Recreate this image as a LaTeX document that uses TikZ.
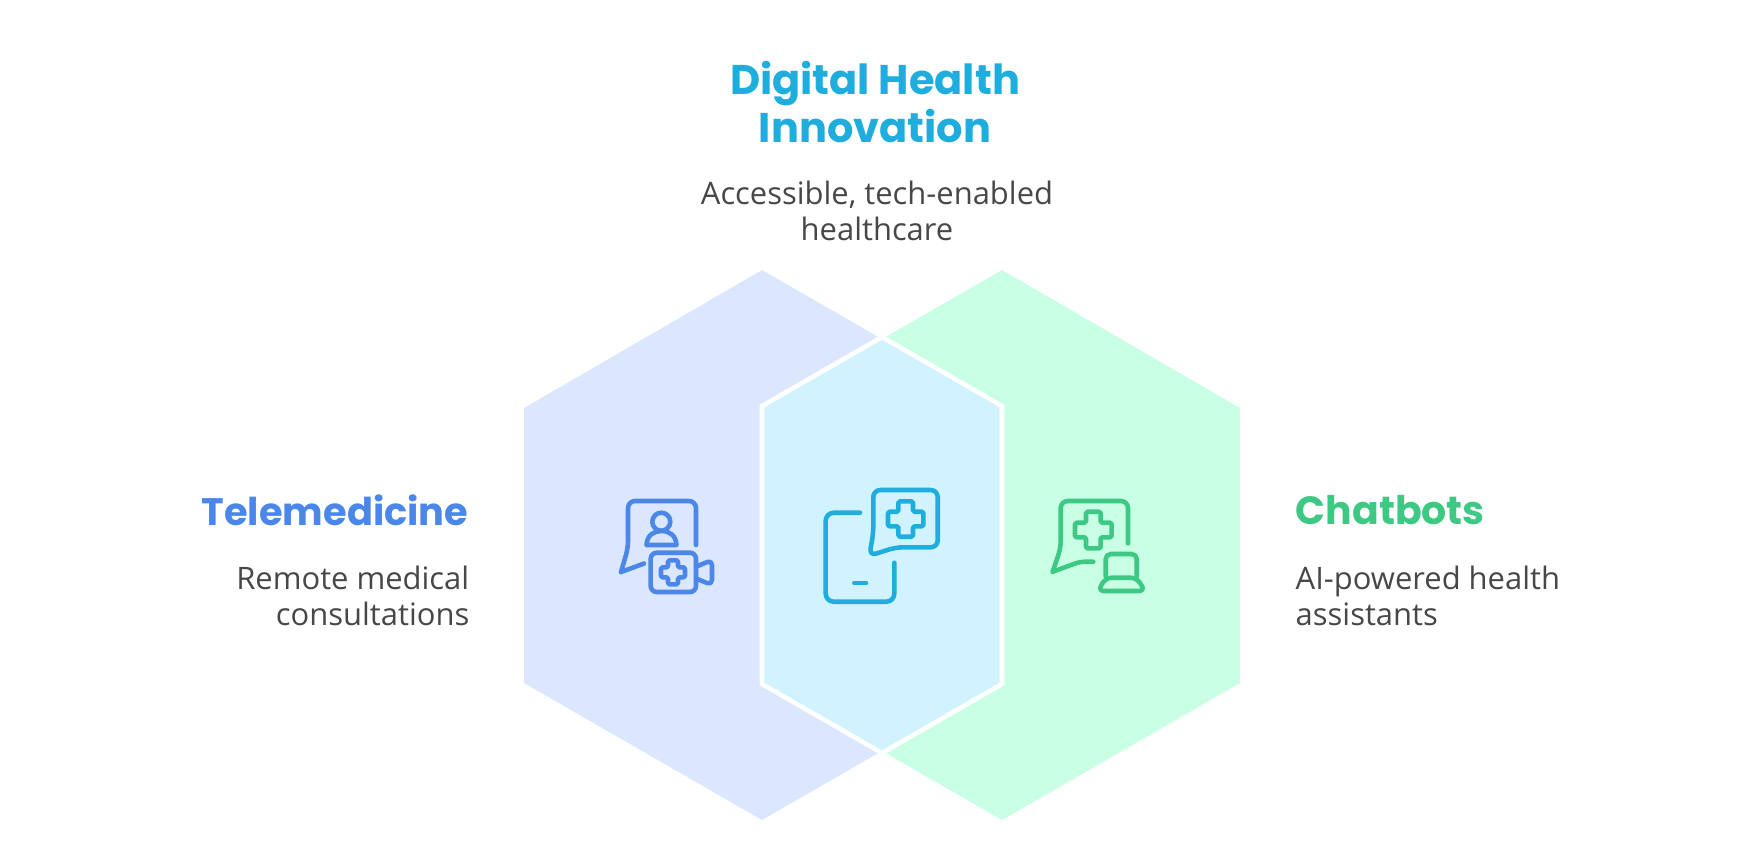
\documentclass[tikz,border=0pt]{standalone}
\usepackage{fontspec}
\setmainfont{Open Sans}
\newfontfamily\headfont{Poppins}
\definecolor{bluefill}{HTML}{DBE7FF}
\definecolor{greenfill}{HTML}{C8FFE5}
\definecolor{cyanfill}{HTML}{D1F3FF}
\definecolor{blueink}{HTML}{4B87E8}
\definecolor{cyanink}{HTML}{1FADDE}
\definecolor{greenink}{HTML}{3DC984}
\definecolor{textgrey}{HTML}{474747}
\usetikzlibrary{positioning}

\begin{document}
\begin{tikzpicture}[
  x=0.01cm,y=-0.01cm,
  headline/.style={font=\headfont\bfseries\fontsize{#1}{13.6}\selectfont,align=center,inner sep=0pt},
  subline/.style={font=\fontsize{8.8}{10.3}\selectfont,text=textgrey,inner sep=0pt},
  icon/.style={line width=1.3pt,line cap=round,line join=round,rounded corners=0.05cm}
]
\useasboundingbox (0,0) rectangle (1764,841);

% hexagons
\fill[bluefill] (762,270) -- (1000,407) -- (1000,683) -- (762,820) -- (524,683) -- (524,408) -- cycle;
\fill[greenfill] (1002,270) -- (1240,408) -- (1240,683) -- (1002,820) -- (764,683) -- (764,407) -- cycle;
\draw[white,line width=1.3pt,fill=cyanfill,miter limit=10] (882,337) -- (1002,406) -- (1002,684) -- (882,753) -- (762,684) -- (762,406) -- cycle;

% texts
\node[headline=11.8,text=cyanink] (title) at (875,102) {Digital Health\\Innovation};
\node[subline,align=center] (titlesub) at (877,211) {Accessible, tech-enabled\\healthcare};
\node[headline=10.9,text=blueink,anchor=east] (tele) at (469,510) {Telemedicine};
\node[subline,align=right,anchor=east] (telesub) at (470,596) {Remote medical\\consultations};
\node[headline=11.2,text=greenink,anchor=west] (chat) at (1295,510) {Chatbots};
\node[subline,align=left,anchor=west] (chatsub) at (1295,596) {AI-powered health\\assistants};

% crosses of all three icons
\foreach \cx/\cy/\hs/\as/\col in {673/572.3/12/5/blueink,905.7/519/17.7/7.3/cyanink,1093.3/530/18.3/7.3/greenink}{
  \draw[icon,\col,rounded corners=0.015cm] (\cx-\as,\cy-\hs) -- (\cx+\as,\cy-\hs) -- (\cx+\as,\cy-\as) -- (\cx+\hs,\cy-\as)
    -- (\cx+\hs,\cy+\as) -- (\cx+\as,\cy+\as) -- (\cx+\as,\cy+\hs) -- (\cx-\as,\cy+\hs) -- (\cx-\as,\cy+\as)
    -- (\cx-\hs,\cy+\as) -- (\cx-\hs,\cy-\as) -- (\cx-\as,\cy-\as) -- cycle;
}

% telemedicine icon
\draw[icon,blueink,rounded corners=0.07cm] (696,545) -- (696,501) -- (628,501) -- (628,548) -- (621,572);
\draw[icon,blueink] (621,572) -- (644,563.5);
\draw[icon,blueink,rounded corners=0pt] (661.3,521.7) circle (9);
\draw[icon,blueink,rounded corners=0pt] (646.5,545) .. controls (647,535) and (654,531) .. (661.3,531) .. controls (669,531) and (676,535) .. (676.5,545) -- cycle;
\draw[icon,blueink,rounded corners=0.06cm] (650.7,552.7) rectangle (696,592);
\draw[icon,blueink] (696,566.7) -- (712,560) -- (712,585) -- (696,578.5);

% phone icon
\draw[icon,cyanink,rounded corners=0.08cm] (860,512.7) -- (825.7,512.7) -- (825.7,601.7) -- (894.3,601.7) -- (894.3,562.7);
\draw[icon,cyanink] (854.3,583) -- (866,583);
\draw[icon,cyanink,rounded corners=0.07cm] (869.3,555.7) -- (873.3,533) -- (873.3,490) -- (937.7,490) -- (937.7,547.3) -- (896,547.3) -- cycle;

% chatbot icon
\draw[icon,greenink,rounded corners=0.07cm] (1128,543.3) -- (1128,501) -- (1060.7,501) -- (1060.7,548) -- (1052.7,571.7);
\draw[icon,greenink] (1052.7,571.7) -- (1080,561.7) -- (1093.3,561.7);
\draw[icon,greenink] (1105.7,576.7) -- (1105.7,554) -- (1136.7,554) -- (1136.7,576.7);
\draw[icon,greenink,rounded corners=0.06cm] (1105.7,577.7) -- (1136.7,577.7) -- (1145,591) -- (1098,591) -- cycle;
\end{tikzpicture}
\end{document}
